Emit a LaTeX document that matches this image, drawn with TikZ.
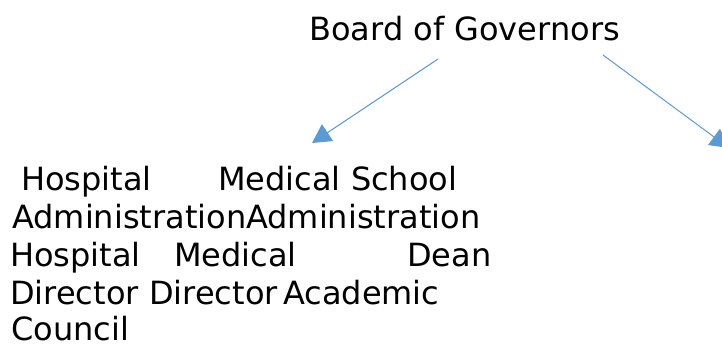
\documentclass[tikz,border=0pt]{standalone}
\usepackage{fontspec}
\setmainfont{DejaVu Sans}
\usetikzlibrary{arrows.meta, positioning}

\begin{document}
\begin{tikzpicture}[
    x=0.75pt, y=-0.75pt,
    lbl/.style={inner sep=0pt, anchor=base west, font=\fontsize{24pt}{28pt}\selectfont},
    blue-arr/.style={draw={rgb,255:red,91;green,155;blue,213}, line width=0.75pt,
      -{Triangle[length=14pt, width=15pt]}}
  ]
  \useasboundingbox (0,0) rectangle (722,345);

%% top of the chart
    \node[lbl] (board) at (309,41) {Board of Governors};

%% arrows go down to the two administrations
    \coordinate (boardL) at (438,59);
    \coordinate (boardR) at (603,55);
    \coordinate (hospTop) at (312,143);
    \coordinate (medTop) at (729,148);
    \draw[blue-arr] (boardL) -- (hospTop);
    \draw[blue-arr] (boardR) -- (medTop);

%% administrations, the text runs into each other
    \node[lbl] (hospAdm) at (21,191) {Hospital};
    \node[lbl] (medAdm) at (218,191) {Medical School};
    \node[lbl] (hospAdm2) at (12,229) {Administration};
    \node[lbl] (medAdm2) at (246,229) {Administration};

%% directors and dean
    \node[lbl] (hospDir) at (10,267) {Hospital};
    \node[lbl] (medDir) at (174,267) {Medical};
    \node[lbl] (dean) at (407,267) {Dean};
    \node[lbl] (hospDir2) at (10,305) {Director};
    \node[lbl] (medDir2) at (149,305) {Director};
    \node[lbl] (dean2) at (283,305) {Academic};
    \node[lbl] (dean3) at (11,341) {Council};

\end{tikzpicture}
\end{document}
